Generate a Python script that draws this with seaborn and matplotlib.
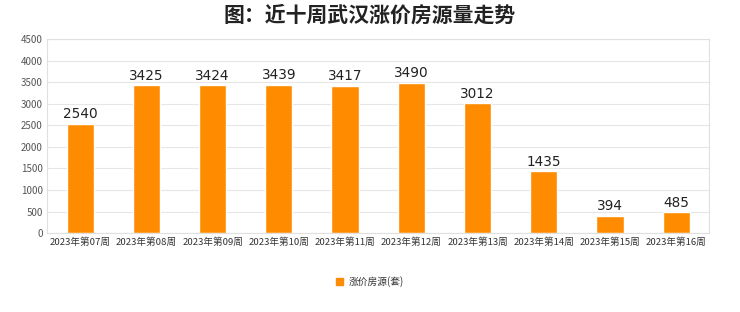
import matplotlib
matplotlib.use("Agg")
import matplotlib.pyplot as plt
import seaborn as sns
import pandas as pd
from matplotlib.patches import Patch

weeks = ["2023年第07周", "2023年第08周", "2023年第09周", "2023年第10周", "2023年第11周",
         "2023年第12周", "2023年第13周", "2023年第14周", "2023年第15周", "2023年第16周"]
values = [2540, 3425, 3424, 3439, 3417, 3490, 3012, 1435, 394, 485]
series_name = "涨价房源(套)"
title = "图：近十周武汉涨价房源量走势"
yticks = [0, 500, 1000, 1500, 2000, 2500, 3000, 3500, 4000, 4500]

sns.set_theme(style="white")
plt.rcParams['font.family'] = ['Noto Sans CJK SC', 'DejaVu Sans']

df = pd.DataFrame({"week": weeks, "value": values})

fig = plt.figure(figsize=(7.4, 3.12), dpi=100)
ax = fig.add_axes([0.0635, 0.253, 0.895, 0.622])
color = "#FF8C00"
sns.barplot(data=df, x="week", y="value", color=color, width=0.41, ax=ax,
            saturation=1, zorder=3)

ax.set_ylim(0, 4500)
ax.set_yticks(yticks)
ax.set_yticklabels([str(t) for t in yticks], fontsize=7, color="#555555")
ax.set_xticklabels(weeks, fontsize=6.9, color="#333333")
ax.set_xlabel("")
ax.set_ylabel("")
ax.set_xlim(-0.5, len(weeks) - 0.5)
ax.grid(axis="y", color="#e6e6e6", linewidth=0.8, zorder=0)
for s in ["top", "right", "bottom", "left"]:
    ax.spines[s].set_visible(True)
    ax.spines[s].set_color("#e0e0e0")
    ax.spines[s].set_linewidth(0.8)
ax.tick_params(axis="both", length=0, pad=3)

for i, v in enumerate(values):
    ax.text(i, v + 60, str(v), ha="center", va="bottom", fontsize=9.8,
            color="#222222", family="DejaVu Sans")

fig.text(0.5, 0.95, title, ha="center", va="center", fontsize=15,
         fontweight="bold", color="#222222")

handles = [Patch(facecolor=color, edgecolor=color, label=series_name)]
fig.legend(handles=handles, loc="center", bbox_to_anchor=(0.5, 0.098), frameon=False,
           fontsize=7, handlelength=0.7, handleheight=0.7, handletextpad=0.6,
           labelcolor="#333333")

fig.savefig("out.png", dpi=100)
